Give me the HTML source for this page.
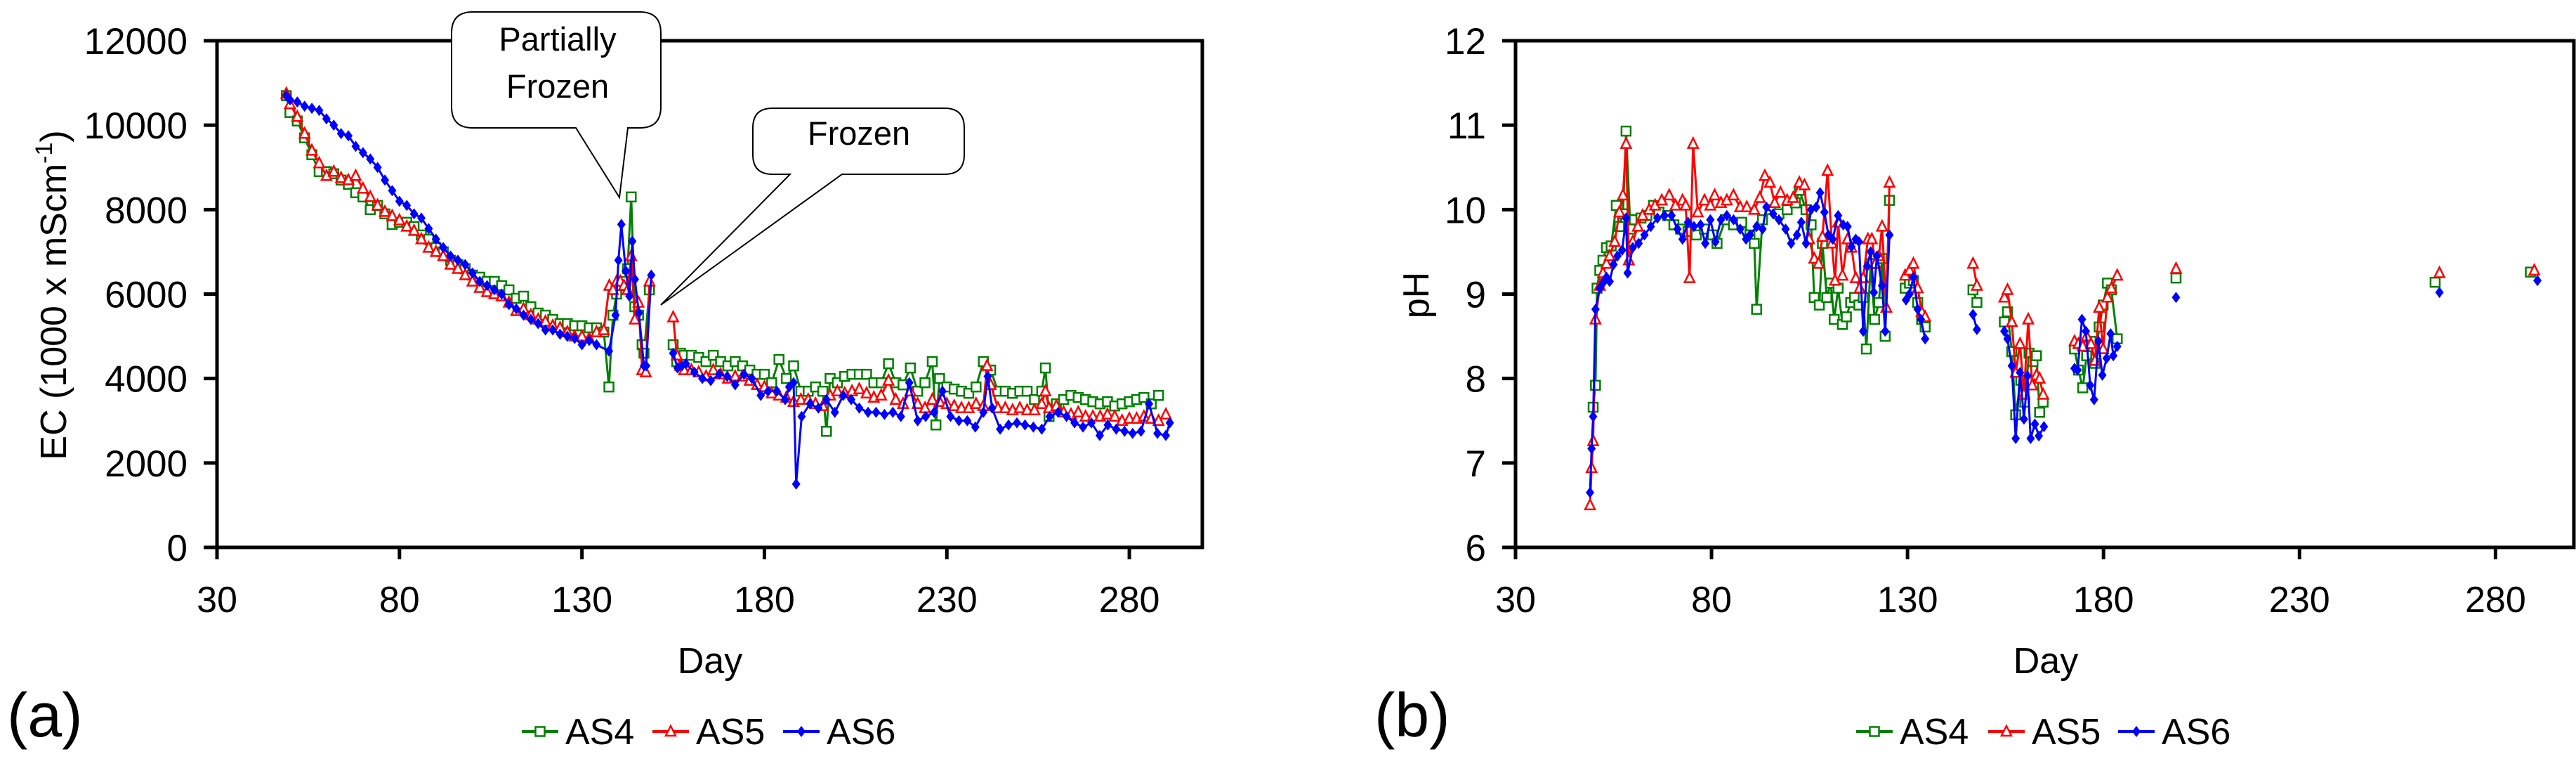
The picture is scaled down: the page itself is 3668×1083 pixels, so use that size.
<!DOCTYPE html>
<html><head><meta charset="utf-8"><style>
html,body{margin:0;padding:0;background:#fff;}
svg{display:block;font-family:"Liberation Sans",Arial,sans-serif;}
</style></head><body>
<svg id="fig" width="3668" height="1083" viewBox="0 0 3668 1083" xmlns="http://www.w3.org/2000/svg">
<g id="chartA"></g>
<g id="chartB"></g>
<g>
 <path d="M673,17 H911 Q941,17 941,47 V152 Q941,182 911,182 H894 L882,281 L820,182 H673 Q643,182 643,152 V47 Q643,17 673,17 Z" fill="#fff" stroke="#000" stroke-width="2"/>
 <text x="794" y="72" font-size="47" text-anchor="middle">Partially</text>
 <text x="794" y="139" font-size="47" text-anchor="middle">Frozen</text>
 <path d="M1100,154 H1345 Q1373,154 1373,182 V220 Q1373,248 1345,248 H1199 L941,434 L1125,248 H1100 Q1072,248 1072,220 V182 Q1072,154 1100,154 Z" fill="#fff" stroke="#000" stroke-width="2"/>
 <text x="1223" y="206" font-size="47" text-anchor="middle">Frozen</text>
</g>
</svg>
<script>
// ---- EC data (chart a) ----
const ecAS4Days=[49,50,52,54,56,58,60,62,64,66,68,70,72,74,76,78,80,82,84,86,88,90,92,94,96,98,100,102,104,106,108,110,112,114,116,118,120,122,124,126,128,130,132,134,136,137.4,138.5,139.5,140.5,141.5,142.5,143.5,144.5,145.5,146.5,147,148.5,null,155,156,157,158,160,162,164,166,168,170,172,174,176,178,180,182,184,186,188,190,192,194,196,197,198,200,202,204,206,208,210,212,214,216,218,220,222,224,226,227,228,230,232,234,236,238,240,242,244,246,248,250,252,254,256,257,258,260,262,264,266,268,270,272,274,276,278,280,282,284,286,288];
const ecAS4Vals=[10700,10300,10100,9700,9300,8900,8900,8850,8700,8600,8400,8300,8000,8100,7900,7650,7700,7700,7600,7400,7300,7100,7000,6800,6700,6600,6450,6400,6300,6300,6200,6100,5900,5950,5700,5550,5500,5400,5300,5300,5250,5250,5200,5200,5100,3800,5500,6000,6200,6300,6600,8300,5700,5500,4800,4600,6100,null,4800,4400,4600,4550,4550,4500,4400,4550,4400,4300,4400,4300,4200,4100,4100,3900,4450,4000,4300,3700,3700,3800,3700,2750,4000,3900,4050,4100,4100,4100,3900,3900,4350,3900,3850,4250,3700,3900,4400,2900,4000,3800,3750,3700,3650,3800,4400,4200,3700,3700,3650,3700,3700,3500,3700,4250,3100,3400,3500,3600,3550,3500,3450,3400,3450,3350,3400,3450,3500,3550,3400,3600];
const ecAS5Days=[49,50,52,54,56,58,60,62,64,66,68,70,72,74,76,78,80,82,84,86,88,90,92,94,96,98,100,102,104,106,108,110,112,114,116,118,120,122,124,126,128,130,132,134,136,137.5,138.5,139.5,140.5,141.5,142.5,143.5,144.5,145.5,146.5,147.5,148.5,null,155,156,157,158,160,162,164,166,168,170,172,174,176,178,180,182,184,186,188,190,192,194,196,198,200,202,204,206,208,210,212,214,216,218,220,222,224,226,228,230,232,234,236,238,240,241,242,244,246,248,250,252,254,256,257,258,260,262,264,266,268,270,272,274,276,278,280,282,284,286,288,290];
const ecAS5Vals=[10750,10500,10200,9800,9400,9100,8800,8900,8750,8700,8800,8500,8300,8100,7950,7850,7750,7600,7500,7300,7100,7000,6900,6700,6600,6450,6300,6150,6050,6000,5950,5800,5600,5650,5500,5400,5350,5250,5200,5100,5000,5000,4950,5100,5150,6200,6100,6300,6300,6200,6100,6900,5400,5800,4200,4150,6300,null,5450,4550,4300,4200,4200,4150,4050,4200,4100,4000,4050,4050,3950,3850,3800,3650,3600,3550,3450,3500,3500,3400,3350,3600,3700,3650,3700,3750,3650,3550,3600,3950,3500,3400,3700,3400,3300,3500,3450,3400,3350,3300,3300,3400,3350,4300,3850,3300,3300,3250,3300,3250,3250,3400,3700,3300,3350,3200,3150,3200,3100,3100,3100,3150,3100,3000,3050,3050,3100,3050,3000,3150];
const ecAS6Days=[49,50,52,54,56,58,60,62,64,66,68,70,72,74,76,78,80,82,84,86,88,90,92,94,96,98,100,102,104,106,108,110,112,114,116,118,120,122,124,126,128,130,132,134,137.4,139.2,140,140.8,142,143,143.8,144.5,145.6,147,147.6,149,null,155,156.2,157.4,158.5,160.8,163,165.3,167.6,169.8,172,174.4,176.6,179,181,183.4,185.7,186.8,188,188.7,190.2,192.5,194.8,197,199.3,201.6,203.8,206,208.4,210.6,212.9,215.2,217.4,219.7,222,224.2,226.5,228.8,231,233.3,235.6,237.8,240,241.2,242.4,244.6,246.9,249.2,251.4,253.7,256,258.2,260.5,262.8,265,267.3,269.6,271.9,274.1,276.4,278.7,280.9,283.2,285.4,287.7,290,291.1];
const ecAS6Vals=[10700,10600,10550,10450,10400,10350,10150,10000,9800,9750,9500,9350,9200,9000,8700,8450,8200,8100,7900,7800,7550,7300,7100,6900,6800,6700,6500,6300,6200,6100,6000,5750,5650,5500,5400,5300,5150,5150,5050,5000,4950,4800,4900,4800,4650,5500,6800,7650,6550,5950,7250,6350,5550,4300,4300,6450,null,4600,4250,4300,4350,4150,4000,3950,4100,4050,3850,4100,4000,3600,3700,3700,3500,3800,3900,1500,3100,3400,3300,3500,3200,3600,3500,3300,3200,3200,3150,3200,3100,3900,3000,3100,3200,3700,3100,3000,3000,2850,3200,4050,3300,2800,2900,2950,2900,2850,2800,3100,3200,3100,2950,2850,2950,2650,2900,2800,2750,2700,2750,3400,2700,2650,2950];
const ecYTicks=[0,2000,4000,6000,8000,10000,12000];
const dayTicks=[30,80,130,180,230,280];
// ---- pH data (chart b) ----
const phAS4Days=[49.8,50.4,50.8,51.5,52.3,53.2,54.4,55.7,56.5,57.4,58.2,59.3,60.3,62,63.5,65.2,66.6,68.8,70.4,72.1,74,76.1,78.2,80.3,81.4,83.5,85.6,87.7,89.8,90.9,91.5,93,95.1,97.2,99.3,101.4,102.4,104.1,105.4,106.2,107.5,108.3,109.4,110.4,111.3,112.3,113.4,114.4,115.5,116.5,117.6,118.7,119.5,120.6,121.6,122.7,123.5,124.3,125.4,null,129.4,130.5,131.5,132.6,133.6,134.5,null,146.7,147.7,null,154.7,155.5,156.6,157.6,158.9,159.9,161,162,162.9,163.7,164.6,null,172.6,173.6,174.7,175.7,176.8,177.8,178.9,179.9,181,182,183.5,null,198.5,null,264.6,null,288.9];
const phAS4Vals=[7.66,7.92,9.07,9.28,9.4,9.55,9.57,10.05,9.8,9.95,10.93,9.77,9.88,9.9,9.93,10.05,9.97,9.93,9.82,9.77,9.74,9.7,9.77,9.7,9.6,9.88,9.82,9.85,9.7,9.6,8.82,9.88,10.0,9.95,10.0,10.08,10.23,10.0,9.82,8.96,8.87,9.6,8.96,9.13,8.7,9.07,8.64,8.73,8.9,8.96,8.87,8.96,8.35,9.36,8.7,8.9,9.42,8.5,10.11,null,9.07,9.13,9.16,8.9,8.7,8.61,null,9.05,8.9,null,8.67,8.79,8.32,7.57,7.98,7.72,8.3,8.2,8.27,7.6,7.72,null,8.35,8.1,7.89,8.27,8.44,8.18,8.61,8.87,9.13,9.05,8.47,null,9.19,null,9.14,null,9.26];
const phAS5Days=[49,49.4,49.8,50.4,51.5,52.3,53.2,54,55.3,56.5,57.4,58.2,58.9,59.9,61.2,62.4,64.1,65.6,67.3,69.2,70.8,72.6,73.4,74.4,75.3,76.5,78.2,79.7,80.8,82.4,83.9,85.6,87.3,89,90.9,92.3,93.6,94.9,96.1,97.6,99.3,100.8,102.4,103.7,104.9,106.2,107.3,108.3,109.6,110.7,111.5,112.3,113.4,114.7,115.7,116.8,117.8,118.7,119.9,120.9,121.8,122.7,123.5,124.6,125.4,null,129.4,130.5,131.5,132.6,133.6,134.5,null,146.7,147.7,null,154.7,155.5,156.6,157.6,158.7,159.7,160.8,161.8,162.9,163.7,164.6,null,172.6,173.6,174.7,175.7,176.8,177.8,178.9,179.9,181,182,183.5,null,198.5,null,265.7,null,289.9];
const phAS5Vals=[6.5,6.94,7.26,8.7,9.1,9.25,9.36,9.45,9.62,9.97,10.17,10.78,9.4,9.62,9.8,9.93,10.0,10.05,10.11,10.17,10.05,10.11,10.05,9.19,10.78,9.97,10.11,10.05,10.17,10.08,10.11,10.17,10.03,10.03,10.0,10.14,10.4,10.32,10.08,10.2,10.11,10.14,10.32,10.29,9.65,9.42,9.36,9.68,10.46,9.6,9.16,9.85,9.22,9.65,9.55,9.19,9.07,9.19,9.65,9.65,9.36,9.45,9.8,8.84,10.32,null,9.22,9.28,9.36,9.07,8.79,8.73,null,9.36,9.1,null,8.96,9.05,8.67,8.07,8.41,7.81,8.7,7.92,8.04,8.0,7.81,null,8.44,8.41,8.38,8.5,8.41,8.21,8.84,8.35,8.96,9.07,9.22,null,9.3,null,9.25,null,9.28];
const phAS6Days=[49,49.4,49.8,50.4,51.5,52.3,53.2,54,55,56,57.2,58.2,58.6,59.9,61.4,62.9,64.5,66.2,68,69.8,71.3,72.6,74,75.5,77.2,78.4,79.7,81,82.4,83.9,85.6,87.3,88.8,89.8,91.5,93,94,95.7,97.2,98.9,100.3,101.8,102.9,104.1,105.4,106.7,107.7,108.8,109.8,110.9,112.3,113.6,114.7,115.7,116.8,117.6,118.7,119.7,120.6,121.4,122.2,123.5,124.3,125.4,null,129.6,130.5,131.5,132.6,133.4,134.5,null,146.7,147.7,null,154.7,155.5,156.6,157.6,158.7,159.7,160.6,161.4,162.5,163.5,164.8,null,172.6,173.4,174.5,175.5,176.6,177.6,178.7,179.7,180.8,181.8,182.5,183.5,null,198.5,null,265.7,null,290.7];
const phAS6Vals=[6.65,7.17,7.55,8.82,9.07,9.13,9.2,9.15,9.35,9.45,9.52,9.9,9.25,9.55,9.6,9.7,9.8,9.9,9.93,9.93,9.77,9.65,9.85,9.8,9.82,9.6,9.88,9.62,9.88,9.93,9.88,9.77,9.65,9.7,9.8,9.77,10.03,9.95,9.88,9.77,9.6,9.7,9.85,9.6,10.0,10.03,10.2,9.97,9.7,9.65,9.93,9.82,9.8,9.56,9.65,9.62,8.56,9.33,9.5,9.02,9.45,9.1,8.56,9.7,null,8.93,9.0,9.2,8.82,8.7,8.47,null,8.76,8.58,null,8.56,8.47,8.15,7.29,8.07,7.52,8.03,7.29,7.46,7.32,7.43,null,8.12,8.1,8.7,8.56,7.92,7.75,8.44,8.04,8.24,8.53,8.27,8.38,null,8.96,null,9.02,null,9.16];
const phYTicks=[6,7,8,9,10,11,12];

const NS='http://www.w3.org/2000/svg';
function mk(parent,tag,attrs,txt){const e=document.createElementNS(NS,tag);for(const k in attrs)e.setAttribute(k,attrs[k]);if(txt!==undefined)e.textContent=txt;parent.appendChild(e);return e;}
const COLORS={AS4:'#008000',AS5:'#ff0000',AS6:'#0000ff'};

function marker(g,kind,x,y){
  let m;
  if(kind==='AS4'){m=mk(g,'rect',{x:x-6.5,y:y-6.5,width:13,height:13,fill:'#fff',stroke:COLORS.AS4,'stroke-width':2.5});}
  else if(kind==='AS5'){m=mk(g,'path',{d:`M${x},${y-8} L${x+7},${y+6} L${x-7},${y+6} Z`,fill:'#fff',stroke:COLORS.AS5,'stroke-width':2.5});}
  else {m=mk(g,'path',{d:`M${x},${y-8} L${x+6},${y} L${x},${y+8} L${x-6},${y} Z`,fill:COLORS.AS6});}
  return m;
}

function drawChart(root,cfg){
  const {L,R,T,B,xmin,xmax,ymin,ymax,yTicks,series,ylabel,panel,legendX,dayX,ytitleX} = cfg;
  const sx=d=>L+(d-xmin)/(xmax-xmin)*(R-L);
  const sy=v=>B-(v-ymin)/(ymax-ymin)*(B-T);
  const axes=mk(root,'g',{});
  
  
  const frame=mk(axes,'rect',{x:L,y:T,width:R-L,height:B-T,fill:'none',stroke:'#000','stroke-width':5});
  
  
  yTicks.forEach(v=>{
    const t=mk(axes,'line',{x1:L-19,x2:L,y1:sy(v),y2:sy(v),stroke:'#000','stroke-width':5});
    
    
    const lb=mk(axes,'text',{x:L-42,y:sy(v)+19,'font-size':53,'text-anchor':'end'},String(v));
    
    
  });
  dayTicks.forEach(d=>{
    const t=mk(axes,'line',{x1:sx(d),x2:sx(d),y1:B,y2:B+17,stroke:'#000','stroke-width':5});
    
    
    const lb=mk(axes,'text',{x:sx(d),y:871,'font-size':52,'text-anchor':'middle'},String(d));
    
    
  });
  const xt=mk(axes,'text',{x:dayX,y:958,'font-size':52,'text-anchor':'middle'},'Day');
  
  
  const yt=mk(axes,'text',{transform:`translate(${ytitleX},420) rotate(-90)`,'font-size':52,'text-anchor':'middle'});
  
  
  ylabel(yt);
  const pl=mk(root,'text',{x:panel[0],y:1048,'font-size':88},panel[1]);
  
  
  // series
  series.forEach(s=>{
    const g=mk(root,'g',{});
    
    
    let segs=[],cur=[];
    for(let i=0;i<s.days.length;i++){
      if(s.days[i]===null||s.vals[i]===null){if(cur.length)segs.push(cur);cur=[];continue;}
      cur.push([sx(s.days[i]),sy(s.vals[i])]);
    }
    if(cur.length)segs.push(cur);
    segs.forEach(seg=>{
      if(seg.length>1){
        const p=mk(g,'polyline',{points:seg.map(q=>q.join(',')).join(' '),fill:'none',stroke:COLORS[s.name],'stroke-width':3});
        
        
      }
    });
    segs.forEach(seg=>seg.forEach(q=>{
      const m=marker(g,s.name,q[0],q[1]);
      
      
    }));
  });
  // legend
  const lg=mk(root,'g',{});
  
  
  ['AS4','AS5','AS6'].forEach((n,i)=>{
    const x0=legendX[i];
    const e=mk(lg,'g',{});
    
    
    mk(e,'line',{x1:x0,x2:x0+52,y1:1041,y2:1041,stroke:COLORS[n],'stroke-width':4});
    marker(e,n,x0+26,1041);
    mk(e,'text',{x:x0+62,y:1059,'font-size':52},n);
  });
}

drawChart(document.getElementById('chartA'),{
  L:309,R:1712,T:58,B:779,xmin:30,xmax:300,ymin:0,ymax:12000,yTicks:ecYTicks,
  series:[{name:'AS4',days:ecAS4Days,vals:ecAS4Vals},{name:'AS5',days:ecAS5Days,vals:ecAS5Vals},{name:'AS6',days:ecAS6Days,vals:ecAS6Vals}],
  ylabel:t=>{t.appendChild(document.createTextNode('EC (1000 x mScm'));const s=mk(t,'tspan',{'font-size':34,dy:-20},'-1');const c=mk(t,'tspan',{dy:20},')');},
  panel:[10,'(a)'],legendX:[743,929,1115],dayX:1011,ytitleX:94
});
drawChart(document.getElementById('chartB'),{
  L:2158,R:3665,T:58,B:779,xmin:30,xmax:300,ymin:6,ymax:12,yTicks:phYTicks,
  series:[{name:'AS4',days:phAS4Days,vals:phAS4Vals},{name:'AS5',days:phAS5Days,vals:phAS5Vals},{name:'AS6',days:phAS6Days,vals:phAS6Vals}],
  ylabel:t=>{t.appendChild(document.createTextNode('pH'));},
  panel:[1957,'(b)'],legendX:[2643,2831,3016],dayX:2913,ytitleX:2034
});
</script>
</body></html>
